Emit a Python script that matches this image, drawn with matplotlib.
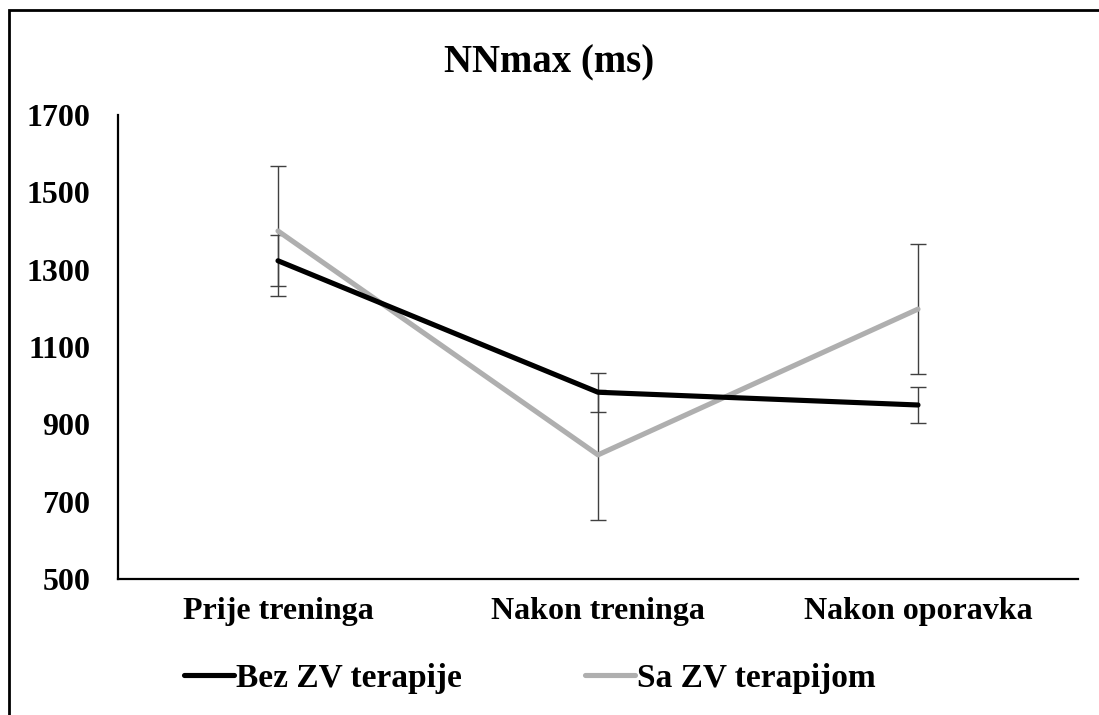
import matplotlib
matplotlib.use('Agg')
import matplotlib.pyplot as plt
from matplotlib.patches import Rectangle

# Podaci
kategorije = ['Prije treninga', 'Nakon treninga', 'Nakon oporavka']
bez_zv = [1323, 983, 950]
bez_zv_err = [66, 50, 47]
sa_zv = [1400, 821, 1198]
sa_zv_err = [168, 168, 168]
y_ticks = [500, 700, 900, 1100, 1300, 1500, 1700]

plt.rcParams['font.family'] = ['Liberation Serif', 'DejaVu Serif']
plt.rcParams['font.weight'] = 'bold'

W, H = 1099, 715
fig = plt.figure(figsize=(W / 100, H / 100), dpi=100)
ax = fig.add_axes([118 / W, 1 - 579 / H, (1078 - 118) / W, (579 - 115) / H])

x = range(len(kategorije))
ax.errorbar(x, bez_zv, yerr=bez_zv_err, fmt='none', ecolor='#404040',
            elinewidth=1, capsize=6, capthick=1, zorder=1)
ax.errorbar(x, sa_zv, yerr=sa_zv_err, fmt='none', ecolor='#404040',
            elinewidth=1, capsize=6, capthick=1, zorder=1)
ax.plot(x, sa_zv, color='#afafaf', lw=3.7, label='Sa ZV terapijom',
        solid_capstyle='round', zorder=2)
ax.plot(x, bez_zv, color='black', lw=3.7, label='Bez ZV terapije',
        solid_capstyle='round', zorder=3)

ax.set_xlim(-0.5, 2.5)
ax.set_ylim(500, 1700)
ax.set_yticks(y_ticks)
ax.set_xticks(list(x))
ax.set_xticklabels(kategorije)
ax.tick_params(axis='both', length=0, labelsize=23)
ax.tick_params(axis='y', pad=20)
ax.tick_params(axis='x', pad=13)
for s in ['top', 'right']:
    ax.spines[s].set_visible(False)
for s in ['left', 'bottom']:
    ax.spines[s].set_linewidth(1.6)

fig.text(0.5, 1 - 63 / H, 'NNmax (ms)', ha='center', va='center',
         fontsize=28, fontweight='bold')

handles, labels = ax.get_legend_handles_labels()
fig.legend(handles[::-1], labels[::-1], loc='center', ncol=2,
           bbox_to_anchor=(530 / W, 1 - 678 / H), frameon=False,
           fontsize=24, handlelength=1.5, handletextpad=0.05,
           columnspacing=3.7)

# okvir oko grafikona
fig.patches.append(Rectangle((9 / W, -0.2), 1.2, 1 - 10 / H + 0.2,
                             transform=fig.transFigure, fill=False,
                             edgecolor='black', lw=2))

fig.savefig('out.png', dpi=100)
